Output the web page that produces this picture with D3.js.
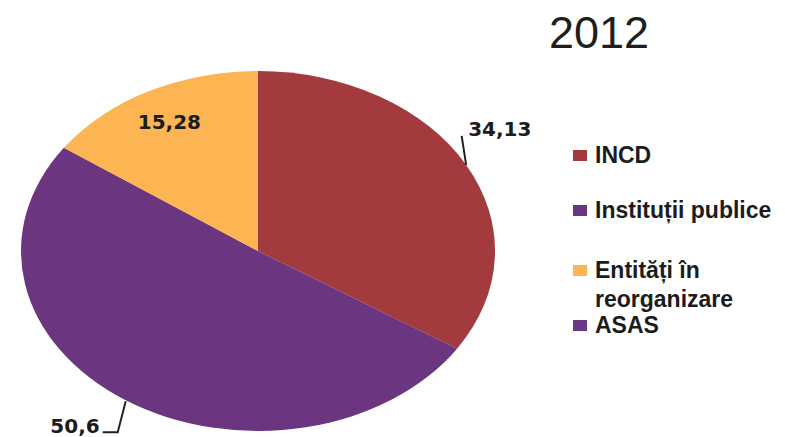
<!DOCTYPE html>
<html>
<head>
<meta charset="utf-8">
<script src="https://cdn.jsdelivr.net/npm/d3@7"></script>
<style>
  html, body { margin: 0; padding: 0; background: #ffffff; }
  svg { display: block; }
</style>
</head>
<body>
<svg id="chart" width="785" height="437"></svg>
<script>
// ---- data ----
const title = "2012";
const categories = ["INCD", "Instituții publice", "Entități în reorganizare", "ASAS"];
const legendLines = [["INCD"], ["Instituții publice"], ["Entități în", "reorganizare"], ["ASAS"]];
const values = [34.13, 50.6, 15.28, 0];
const valueLabels = ["34,13", "50,6", "15,28", ""];
const colors = ["#A33A3E", "#6B3580", "#FDB553", "#6A3884"];

// ---- layout ----
const svg = d3.select("#chart");
const cx = 258, cy = 251, rx = 237, ry = 180;
const R = 100;

const pie = d3.pie().sort(null).value(d => d.value);
const arcs = pie(categories.map((c, i) => ({ cat: c, value: values[i], i })));
const arc = d3.arc().innerRadius(0).outerRadius(R);

const g = svg.append("g")
  .attr("transform", `translate(${cx},${cy}) scale(${rx / R},${ry / R})`);

g.selectAll("path")
  .data(arcs.filter(d => d.data.value > 0))
  .join("path")
  .attr("d", arc)
  .attr("fill", d => colors[d.data.i]);

function ellPoint(angle, frac) {
  return [cx + Math.sin(angle) * rx * frac, cy - Math.cos(angle) * ry * frac];
}
const mid = d => (d.startAngle + d.endAngle) / 2;

const labelFont = "'DejaVu Sans', Verdana, sans-serif";
const textColor = "#1c1c1c";

// INCD label (outside, leader up-left)
{
  const d = arcs[0];
  const [ex, ey] = ellPoint(mid(d), 1.0);
  svg.append("path")
    .attr("d", `M${ex},${ey} L${ex - 4.5},${ey - 29}`)
    .attr("stroke", "#222").attr("stroke-width", 2).attr("fill", "none");
  svg.append("text")
    .attr("x", ex + 2).attr("y", ey - 29)
    .attr("font-family", labelFont).attr("font-weight", "bold")
    .attr("font-size", 20).attr("fill", textColor)
    .text(valueLabels[0]);
}
// Instituții publice label (outside, leader down-left)
{
  const d = arcs[1];
  const [ex, ey] = ellPoint(mid(d), 1.0);
  svg.append("path")
    .attr("d", `M${ex},${ey + 1} L${ex - 8},${ey + 32} L${ex - 23},${ey + 32}`)
    .attr("stroke", "#222").attr("stroke-width", 2).attr("fill", "none");
  svg.append("text")
    .attr("x", ex - 26).attr("y", ey + 33)
    .attr("text-anchor", "end")
    .attr("font-family", labelFont).attr("font-weight", "bold")
    .attr("font-size", 20).attr("fill", textColor)
    .text(valueLabels[1]);
}
// Entități label (inside)
{
  const d = arcs[2];
  const [lx, ly] = ellPoint(mid(d), 0.81);
  svg.append("text")
    .attr("x", lx).attr("y", ly + 7)
    .attr("text-anchor", "middle")
    .attr("font-family", labelFont).attr("font-weight", "bold")
    .attr("font-size", 20).attr("fill", textColor)
    .text(valueLabels[2]);
}

// ---- title ----
svg.append("text")
  .attr("x", 599).attr("y", 48)
  .attr("text-anchor", "middle")
  .attr("font-family", "'Liberation Sans', Arial, sans-serif")
  .attr("font-size", 45).attr("fill", "#1e1e1e")
  .text(title);

// ---- legend ----
const legendY = [163, 218, 278, 333];
const legend = svg.append("g");
categories.forEach((c, i) => {
  const y = legendY[i];
  legend.append("rect")
    .attr("x", 573).attr("y", y - 13).attr("width", 14).attr("height", 11)
    .attr("fill", colors[i]);
  const t = legend.append("text")
    .attr("x", 595).attr("y", y)
    .attr("font-family", "'Liberation Sans', Arial, sans-serif")
    .attr("font-weight", "bold").attr("font-size", 23)
    .attr("fill", textColor);
  legendLines[i].forEach((line, j) => {
    t.append("tspan").attr("x", 595).attr("dy", j === 0 ? 0 : 29).text(line);
  });
});
</script>
</body>
</html>
